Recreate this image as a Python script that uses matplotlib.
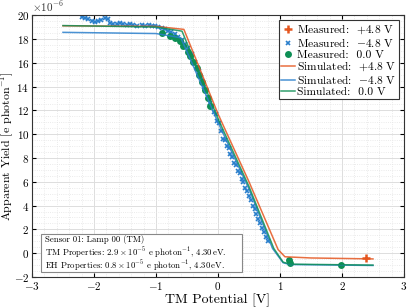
import numpy as np
import matplotlib
matplotlib.use("Agg")
import matplotlib.pyplot as plt
from matplotlib.ticker import MultipleLocator
from matplotlib.patches import Rectangle

plt.rcParams['font.family'] = 'serif'
plt.rcParams['font.serif'] = ['cmr10']
plt.rcParams['mathtext.fontset'] = 'cm'
plt.rcParams['axes.unicode_minus'] = False
plt.rcParams['axes.formatter.use_mathtext'] = True

c_orange = '#E5561F'
c_blue = '#2A7FCC'
c_green = '#0E8F55'

# Measured data (x in V, y in 1e-6 e/photon)
meas_pos_x = [2.39]
meas_pos_y = [-0.38]

meas_neg_x = [-2.20, -2.15, -2.09, -2.04, -1.98, -1.93, -1.88, -1.82, -1.78, -1.74,
              -1.69, -1.63, -1.58, -1.53, -1.47, -1.42, -1.37, -1.31, -1.23, -1.18,
              -1.12, -1.07, -1.02, -0.96, -0.91, -0.85, -0.80, -0.75, -0.69, -0.64,
              -0.58, -0.53, -0.48, -0.42, -0.37, -0.34, -0.31, -0.28, -0.25, -0.22,
              -0.19, -0.16, -0.13, -0.10, -0.07, -0.04, -0.01, 0.02, 0.05, 0.08,
              0.11, 0.14, 0.17, 0.20, 0.23, 0.26, 0.29, 0.32, 0.35, 0.38,
              0.41, 0.44, 0.47, 0.50, 0.53, 0.56, 0.59, 0.62, 0.65, 0.68,
              0.71, 0.74, 0.77, 0.80]
meas_neg_y = [19.80, 19.72, 19.64, 19.52, 19.44, 19.50, 19.58, 19.72, 19.64, 19.36,
              19.24, 19.24, 19.30, 19.24, 19.19, 19.24, 19.15, 19.10, 19.15, 19.07,
              19.18, 19.10, 19.10, 18.97, 18.90, 18.80, 18.70, 18.55, 18.40, 18.20,
              17.90, 17.60, 17.20, 16.70, 16.10, 15.60, 15.30, 14.80, 14.50, 14.00,
              13.70, 13.10, 12.60, 12.40, 11.90, 11.70, 11.10, 10.90, 10.30, 9.60,
              9.50, 9.00, 8.80, 8.30, 8.10, 7.60, 7.40, 6.90, 6.70, 6.20,
              6.00, 5.50, 5.20, 4.80, 4.50, 4.00, 3.70, 3.30, 2.90, 2.50,
              2.10, 1.80, 1.40, 1.00]

meas_zero_x = [-0.91, -0.77, -0.69, -0.61, -0.56, -0.49, -0.45, -0.40, -0.34, -0.30,
               -0.25, -0.21, -0.16, -0.13, 1.15, 1.16, 1.98]
meas_zero_y = [18.46, 18.24, 18.10, 17.84, 17.40, 16.90, 16.55, 16.08, 15.52, 14.96,
               14.40, 13.70, 13.00, 12.40, -0.60, -0.80, -0.95]

# Simulated curves
sim_pos_x = [-2.5, -1.0, -0.55, 0.0, 0.5, 0.97, 1.08, 1.5, 2.5]
sim_pos_y = [19.1, 19.05, 18.8, 11.7, 6.0, 0.3, -0.3, -0.4, -0.48]
sim_neg_x = [-2.5, -1.0, -0.6, 0.0, 0.5, 0.88, 1.05, 1.16, 2.5]
sim_neg_y = [18.55, 18.45, 18.1, 11.0, 5.4, 0.4, -0.8, -0.95, -1.03]
sim_zero_x = [-2.5, -1.0, -0.58, 0.0, 0.5, 0.9, 1.05, 1.16, 2.5]
sim_zero_y = [19.12, 19.0, 18.65, 11.3, 5.6, 0.4, -0.75, -0.92, -1.0]

info_lines = ['Sensor 01: Lamp 00 (TM)',
              r'TM Properties: $2.9\times10^{-5}$ e photon$^{-1}$, $4.30\,$eV.',
              r'EH Properties: $0.8\times10^{-5}$ e photon$^{-1}$, $4.30\,$eV.']

fig = plt.figure(figsize=(4.07, 3.08), dpi=100)
ax = fig.add_axes([0.0786, 0.1006, 0.914, 0.8504])

ax.plot(meas_pos_x, meas_pos_y, '+', color=c_orange, ms=6, mew=1.8, label='Measured:  $+4.8$ V')
ax.plot(meas_neg_x, meas_neg_y, 'x', color=c_blue, ms=3.5, mew=1.2, label='Measured:  $-4.8$ V')
ax.plot(meas_zero_x, meas_zero_y, 'o', color=c_green, ms=5, mec='none', label='Measured:  0.0 V')
ax.plot(sim_pos_x, sim_pos_y, '-', color=c_orange, lw=1.1, alpha=0.85, label='Simulated:  $+4.8$ V')
ax.plot(sim_neg_x, sim_neg_y, '-', color=c_blue, lw=1.1, alpha=0.85, label='Simulated:  $-4.8$ V')
ax.plot(sim_zero_x, sim_zero_y, '-', color=c_green, lw=1.1, alpha=0.85, label='Simulated:  0.0 V')

ax.set_xlim(-3, 3)
ax.set_ylim(-2, 20)
ax.xaxis.set_major_locator(MultipleLocator(1))
ax.xaxis.set_minor_locator(MultipleLocator(0.2))
ax.yaxis.set_major_locator(MultipleLocator(2))
ax.yaxis.set_minor_locator(MultipleLocator(0.5))
ax.grid(True, which='major', color='#dddddd', lw=0.7)
ax.grid(True, which='minor', color='#e4e4e4', lw=0.6, ls=':')
ax.set_axisbelow(True)
ax.tick_params(which='both', direction='in', top=True, right=True, labelsize=8, pad=2)
ax.tick_params(which='major', length=3)
ax.tick_params(which='minor', length=0)
for s in ax.spines.values():
    s.set_color('#333333')
    s.set_linewidth(0.8)

ax.set_xlabel('TM Potential [V]', fontsize=10, labelpad=1)
ax.set_ylabel('Apparent Yield [e photon$^{-1}$]', fontsize=8.6)
ax.yaxis.set_label_coords(-0.042, 0.5)
ax.text(0.0, 1.005, r'$\times10^{-6}$', transform=ax.transAxes, fontsize=8,
        ha='left', va='bottom', color='#333333')

leg = ax.legend(loc='upper right', fontsize=8.3, frameon=True, fancybox=False,
                edgecolor='#333333', framealpha=1, handlelength=1.2, handletextpad=0.2,
                borderpad=0.2, labelspacing=0.02, borderaxespad=0.45)
leg.get_frame().set_linewidth(0.8)

# info box
ax.add_patch(Rectangle((0.024, 0.018), 0.54, 0.146, transform=ax.transAxes,
                       fc='white', ec='#888888', lw=0.8, zorder=5))
for i, line in enumerate(info_lines):
    ax.text(0.034, 0.142 - i * 0.049, line, transform=ax.transAxes, fontsize=6.3,
            ha='left', va='center', zorder=6)

fig.savefig('out.png', dpi=100)
